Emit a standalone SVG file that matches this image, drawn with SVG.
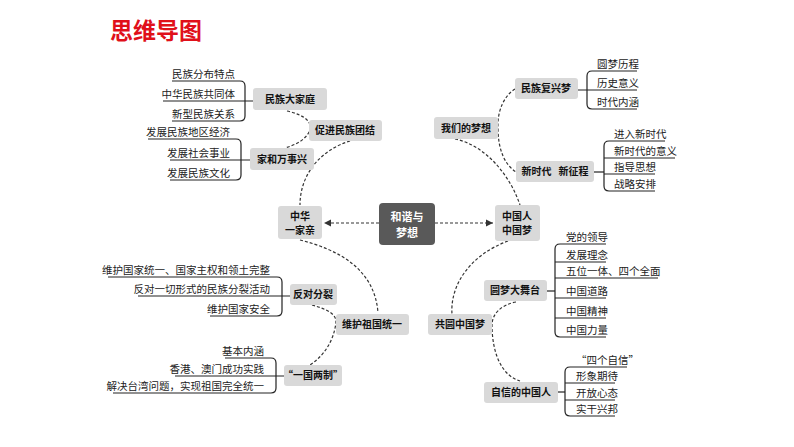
<svg xmlns="http://www.w3.org/2000/svg" width="794" height="447" viewBox="0 0 794 447">
<style>
text{font-family:"Noto Sans CJK SC","Liberation Sans",sans-serif}
.n rect{fill:#d9d9d9}
.n text{font-size:10px;font-weight:bold;fill:#111;text-anchor:middle}
.l text{font-size:10.5px;fill:#222}
.l path,.l line{fill:none;stroke:#222;stroke-width:1.2}
.d{fill:none;stroke:#333;stroke-width:1.2;stroke-dasharray:3,2}
</style>
<defs><marker id="a" markerWidth="8" markerHeight="8" refX="6" refY="3" orient="auto"><path d="M0,0 L6,3 L0,6 Z" fill="#333"/></marker></defs>
<text x="110" y="39" font-size="23" font-weight="bold" fill="#e0101a">思维导图</text>

<g id="connectors">
<path class="d" d="M287,111 C305,115 312,122 310,130 C306,140 295,145 285,148"/>
<path class="d" d="M350,141 C320,150 300,175 300,205"/>
<line class="d" x1="379" y1="223" x2="324" y2="223" marker-end="url(#a)"/>
<line class="d" x1="435" y1="223" x2="493" y2="223" marker-end="url(#a)"/>
<path class="d" d="M300,240 C340,250 375,270 378,313"/>
<path class="d" d="M312,305 C330,310 336,315 336,322 C334,340 325,355 310,365"/>
<path class="d" d="M455,139 C485,145 510,175 520,205"/>
<path class="d" d="M515,89 C505,95 497,110 498,128 C498,150 505,165 516,172"/>
<path class="d" d="M508,241 C470,255 450,285 452,314"/>
<path class="d" d="M516,302 C500,305 492,315 492,325 C492,350 500,375 520,381"/>
</g>

<g id="center"><rect x="379" y="203" width="56" height="42" rx="4" fill="#595959"/><text x="407" y="221" font-size="11" font-weight="bold" fill="#fff" text-anchor="middle">和谐与</text><text x="407" y="237" font-size="11" font-weight="bold" fill="#fff" text-anchor="middle">梦想</text></g>

<g id="n1" class="n"><rect x="253" y="88" width="74" height="22" rx="3"/><text x="290" y="103">民族大家庭</text></g>
<g id="n2" class="n"><rect x="309" y="120" width="73" height="21" rx="3"/><text x="345" y="134">促进民族团结</text></g>
<g id="n3" class="n"><rect x="250" y="148" width="64" height="22" rx="3"/><text x="282" y="163">家和万事兴</text></g>
<g id="n4" class="n"><rect x="278" y="206" width="44" height="33" rx="3"/><text x="300" y="220">中华</text><text x="300" y="234">一家亲</text></g>
<g id="n5" class="n"><rect x="495" y="205" width="45" height="36" rx="3"/><text x="517" y="220">中国人</text><text x="517" y="234">中国梦</text></g>
<g id="n6" class="n"><rect x="434" y="117" width="64" height="22" rx="3"/><text x="466" y="132">我们的梦想</text></g>
<g id="n7" class="n"><rect x="515" y="78" width="63" height="21" rx="3"/><text x="546" y="92">民族复兴梦</text></g>
<g id="n8" class="n"><rect x="516" y="161" width="78" height="21" rx="3"/><text x="555" y="175" xml:space="preserve">新时代   新征程</text></g>
<g id="n9" class="n"><rect x="290" y="284" width="47" height="21" rx="3"/><text x="313" y="298">反对分裂</text></g>
<g id="n10" class="n"><rect x="336" y="314" width="73" height="21" rx="3"/><text x="372" y="328">维护祖国统一</text></g>
<g id="n11" class="n"><rect x="284" y="365" width="58" height="21" rx="3"/><text x="313" y="379">“一国两制”</text></g>
<g id="n12" class="n"><rect x="428" y="314" width="64" height="21" rx="3"/><text x="460" y="328">共圆中国梦</text></g>
<g id="n13" class="n"><rect x="484" y="280" width="63" height="21" rx="3"/><text x="515" y="294">圆梦大舞台</text></g>
<g id="n14" class="n"><rect x="484" y="382" width="74" height="21" rx="3"/><text x="521" y="396">自信的中国人</text></g>

<g id="list1" class="l" text-anchor="end">
<path d="M172,81 H240 Q245,81 245,86 V116 Q245,121 240,121 H172"/><line x1="163" y1="101" x2="253" y2="101"/>
<text x="235" y="78" text-anchor="end">民族分布特点</text><text x="235" y="98" text-anchor="end">中华民族共同体</text><text x="235" y="118" text-anchor="end">新型民族关系</text>
</g>
<g id="list2" class="l">
<path d="M148,139 H236 Q241,139 241,144 V175 Q241,180 236,180 H170"/><line x1="170" y1="160" x2="250" y2="160"/>
<text x="230" y="136" text-anchor="end">发展民族地区经济</text><text x="230" y="157" text-anchor="end">发展社会事业</text><text x="230" y="177" text-anchor="end">发展民族文化</text>
</g>
<g id="list3" class="l">
<path d="M637,71 H592 Q587,71 587,76 V104 Q587,109 592,109 H637"/><line x1="578" y1="90" x2="637" y2="90"/>
<text x="597" y="68">圆梦历程</text><text x="597" y="87">历史意义</text><text x="597" y="106">时代内涵</text>
</g>
<g id="list4" class="l">
<path d="M665,141 H609 Q604,141 604,146 V186 Q604,191 609,191 H655"/><line x1="604" y1="158" x2="675" y2="158"/><line x1="594" y1="172" x2="604" y2="172"/><line x1="604" y1="174" x2="655" y2="174"/>
<text x="614" y="138">进入新时代</text><text x="614" y="155">新时代的意义</text><text x="614" y="171">指导思想</text><text x="614" y="188">战略安排</text>
</g>
<g id="list5" class="l">
<path d="M108,277 H277 Q282,277 282,282 V311 Q282,316 277,316 H210"/><line x1="138" y1="296" x2="290" y2="296"/>
<text x="270" y="274" text-anchor="end">维护国家统一、国家主权和领土完整</text><text x="270" y="293" text-anchor="end">反对一切形式的民族分裂活动</text><text x="270" y="313" text-anchor="end">维护国家安全</text>
</g>
<g id="list6" class="l">
<path d="M225,358 H271 Q276,358 276,363 V388 Q276,393 271,393 H113"/><line x1="175" y1="376" x2="284" y2="376"/>
<text x="264" y="355" text-anchor="end">基本内涵</text><text x="264" y="373" text-anchor="end">香港、澳门成功实践</text><text x="264" y="390" text-anchor="end">解决台湾问题，实现祖国完全统一</text>
</g>
<g id="list7" class="l">
<path d="M606,244 H560 Q555,244 555,249 V332 Q555,337 560,337 H606"/><line x1="555" y1="262" x2="606" y2="262"/><line x1="555" y1="278" x2="658" y2="278"/><line x1="547" y1="291" x2="555" y2="291"/><line x1="555" y1="298" x2="606" y2="298"/><line x1="555" y1="318" x2="606" y2="318"/>
<text x="566" y="241">党的领导</text><text x="566" y="259">发展理念</text><text x="566" y="275">五位一体、四个全面</text><text x="566" y="295">中国道路</text><text x="566" y="315">中国精神</text><text x="566" y="334">中国力量</text>
</g>
<g id="list8" class="l">
<path d="M627,367 H570 Q565,367 565,372 V411 Q565,416 570,416 H615"/><line x1="565" y1="383" x2="615" y2="383"/><line x1="565" y1="400" x2="615" y2="400"/><line x1="558" y1="392" x2="565" y2="392"/>
<text x="576" y="364">“四个自信”</text><text x="576" y="380">形象期待</text><text x="576" y="397">开放心态</text><text x="576" y="413">实干兴邦</text>
</g>
</svg>
